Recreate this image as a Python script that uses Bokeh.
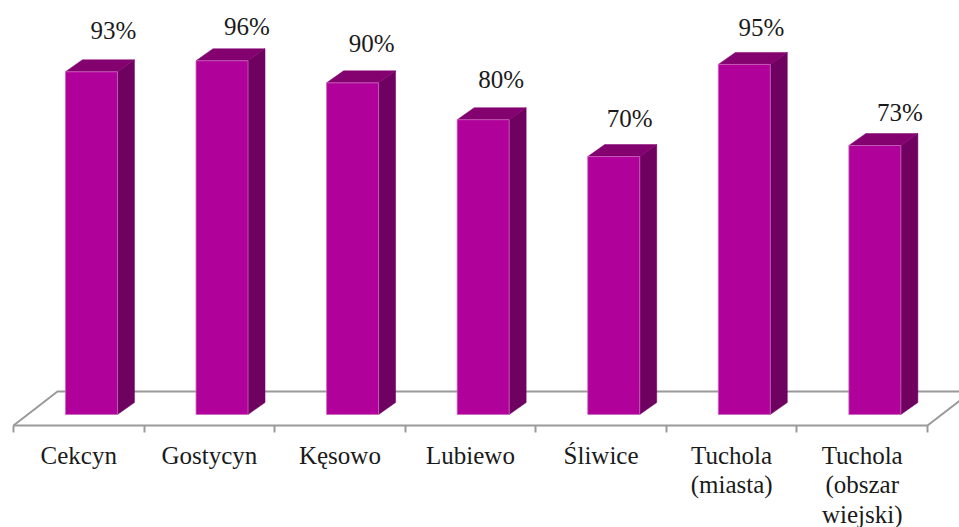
from bokeh.plotting import figure
from bokeh.models import ColumnDataSource, FixedTicker, LinearAxis, Range1d
from bokeh.core.properties import value
from bokeh.embed import file_html
from bokeh.resources import INLINE

categories = ["Cekcyn", "Gostycyn", "Kęsowo", "Lubiewo", "Śliwice", "Tuchola\n(miasta)", "Tuchola\n(obszar\nwiejski)"]
percent = [93, 96, 90, 80, 70, 95, 73]
percent_labels = ["93%", "96%", "90%", "80%", "70%", "95%", "73%"]

# label nudges relative to the bar's front-top corner (screen px)
label_dx = [22, 25, 19, 18, 16, 17, 25]
label_dy = [-41, -34, -39, -40, -38, -37, -33]

FONT = "Liberation Serif"
PX_X = 130.57   # px per category
PX_Y = 3.685    # px per percent
W, H = 959, 527
X0 = -13 / PX_X
X1 = X0 + W / PX_X
Y0 = -(H - 414) / PX_Y
Y1 = Y0 + H / PX_Y
YF = -11 / PX_Y   # level of the floor's front edge

p = figure(width=W, height=H, output_backend="svg", toolbar_location=None,
           x_range=Range1d(X0, X1), y_range=Range1d(Y0, Y1),
           x_axis_location=None, y_axis_location=None,
           min_border_left=0, min_border_right=0, min_border_top=0,
           min_border_bottom=0,
           background_fill_color="white", border_fill_color="white")
p.outline_line_color = None
p.grid.visible = False

n = len(categories)
GRAY = "#9a9a9a"

# floor
dxf, yb = 44 / PX_X, 23 / PX_Y
p.line([0, dxf, n + dxf, n], [YF, yb, yb, YF], line_color=GRAY, line_width=2)

# bars
cx = [i + 0.5 + 0.097 for i in range(n)]
hw = 26 / PX_X
ddx = 17 / PX_X
ddy = 12 / PX_Y
front_x, front_y, side_x, side_y, top_x, top_y = [], [], [], [], [], []
for c, v in zip(cx, percent):
    l, r = c - hw, c + hw
    front_x.append([l, r, r, l]); front_y.append([0, 0, v, v])
    side_x.append([r, r + ddx, r + ddx, r]); side_y.append([0, ddy, v + ddy, v])
    top_x.append([l, r, r + ddx, l + ddx]); top_y.append([v, v, v + ddy, v + ddy])

p.patches(side_x, side_y, fill_color="#6F0160", line_color="#6F0160", line_width=0.5)
p.patches(top_x, top_y, fill_color="#83026F", line_color="#83026F", line_width=0.5)
p.patches(front_x, front_y, fill_color="#B0029B", line_color="#CC66BE", line_width=0.8)

# data labels
src = ColumnDataSource(dict(x=[c - hw for c in cx], y=percent, t=percent_labels,
                            dx=[26 + d for d in label_dx], dy=label_dy))
p.text("x", "y", text="t", source=src, x_offset="dx", y_offset="dy",
       text_font=value(FONT), text_font_size="25px", text_color="#1a1a1a",
       text_align="center", text_baseline="middle")

# category axis
centers = [i + 0.5 for i in range(n)]
bounds = list(range(n + 1))
ax = LinearAxis(ticker=FixedTicker(ticks=centers, minor_ticks=bounds),
                major_label_overrides={c: t for c, t in zip(centers, categories)},
                bounds=(0, n), fixed_location=YF)
ax.axis_line_color = GRAY
ax.axis_line_width = 2
ax.major_tick_line_color = None
ax.major_tick_in = 0
ax.major_tick_out = 0
ax.minor_tick_line_color = GRAY
ax.minor_tick_line_width = 2
ax.minor_tick_in = 0
ax.minor_tick_out = 7
ax.major_label_standoff = 9
ax.major_label_orientation = "horizontal"
ax.major_label_text_font = FONT
ax.major_label_text_font_size = "25px"
ax.major_label_text_color = "#1a1a1a"
ax.major_label_text_line_height = 1.1
p.add_layout(ax, "below")

open("out.html", "w").write(file_html(p, INLINE))
